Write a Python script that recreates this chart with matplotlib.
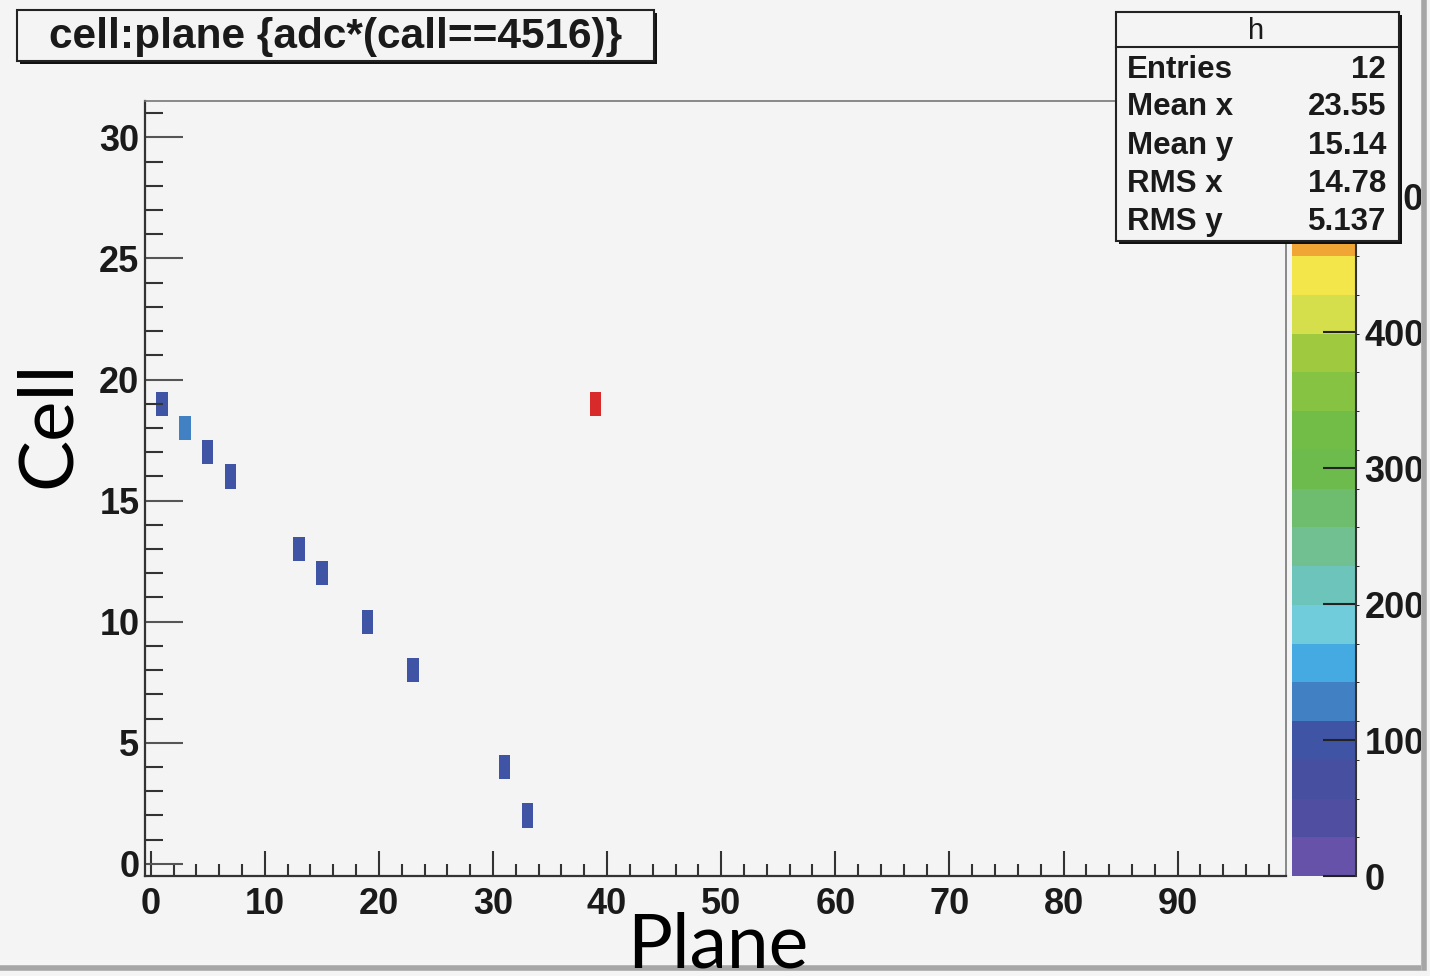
import numpy as np
import matplotlib
matplotlib.use("Agg")
import matplotlib.pyplot as plt
from matplotlib.colors import ListedColormap, BoundaryNorm
from matplotlib.patches import Rectangle
from matplotlib.lines import Line2D

# ---------------- data ----------------
planes = [1, 3, 5, 7, 13, 15, 19, 23, 31, 33, 39]
cells = [19, 18, 17, 16, 13, 12, 10, 8, 4, 2, 19]
adc = [950, 1300, 950, 950, 950, 950, 950, 950, 950, 950, 5600]

x_ticks = [0, 10, 20, 30, 40, 50, 60, 70, 80, 90]
y_ticks = [0, 5, 10, 15, 20, 25, 30]
z_ticks = [0, 1000, 2000, 3000, 4000, 5000]
z_max = 5700

title_text = "cell:plane {adc*(call==4516)}"
stat_names = ["Entries", "Mean x", "Mean y", "RMS x", "RMS y"]
stat_values = ["12", "23.55", "15.14", "14.78", "5.137"]
hist_name = "h"

palette = ["#6652a8", "#504ea0", "#474fa0", "#3f54a5", "#4280c4",
           "#45aae2", "#70cbda", "#6cc4bb", "#70c092", "#6ebd6e",
           "#6cbb4c", "#72bd48", "#86c343", "#9fca40", "#d5df4b",
           "#f2e64a", "#f0a535", "#ec7a30", "#e44a2e", "#d8292b"]

# ---------------- figure ----------------
W, H = 1430, 976
BG = "#f4f4f4"
fig = plt.figure(figsize=(W / 100, H / 100), dpi=100, facecolor=BG)

FONT = "Liberation Sans"


def fx(x):
    return x / W


def fy(y):
    return 1 - y / H


ax = fig.add_axes([fx(145), fy(876), (1286 - 145) / W, (876 - 101) / H])
cax = fig.add_axes([fx(1292), fy(876), (1356 - 1292) / W, (876 - 101) / H])
ax.set_facecolor(BG)

xedges = np.arange(-0.5, 100.0, 1.0)
yedges = np.arange(-0.5, 32.0, 1.0)
hist, _, _ = np.histogram2d(planes, cells, bins=[xedges, yedges], weights=adc)
hist = np.ma.masked_equal(hist.T, 0)

cmap = ListedColormap(palette)
levels = np.linspace(0, z_max, len(palette) + 1)
norm = BoundaryNorm(levels, cmap.N)
mesh = ax.pcolormesh(xedges, yedges, hist, cmap=cmap, norm=norm)

ax.set_xlim(-0.5, 99.5)
ax.set_ylim(-0.5, 31.5)
ax.set_xticks(x_ticks)
ax.set_yticks(y_ticks)
ax.set_xticks(np.arange(0, 100, 2), minor=True)
ax.set_yticks(np.arange(0, 32, 1), minor=True)
ax.tick_params(axis="x", which="major", direction="in", length=18, width=1.5,
               color="#333333", pad=8)
ax.tick_params(axis="x", which="minor", direction="in", length=9, width=1.5,
               color="#333333")
ax.tick_params(axis="y", which="major", direction="in", length=27, width=1.5,
               color="#555555", pad=4)
ax.tick_params(axis="y", which="minor", direction="in", length=13, width=1.5,
               color="#333333")
for lab in ax.get_xticklabels() + ax.get_yticklabels():
    lab.set_fontfamily(FONT)
    lab.set_fontweight("bold")
    lab.set_fontsize(26)
    lab.set_color("#1a1a1a")
for sp in ax.spines.values():
    sp.set_color("#777777")
    sp.set_linewidth(1.2)
ax.spines["left"].set_color("#333333")
ax.spines["bottom"].set_color("#333333")
ax.spines["left"].set_linewidth(1.6)
ax.spines["bottom"].set_linewidth(1.6)

cbar = fig.colorbar(mesh, cax=cax, ticks=z_ticks, boundaries=levels)
cbar.outline.set_visible(False)
cax.plot([1, 1], [0, 1], transform=cax.transAxes, color="#333333", lw=1.5,
         clip_on=False)
cax.tick_params(direction="in", length=24, width=1.5, color="#222222", pad=6)
cbar.set_ticklabels([str(t) for t in z_ticks])
for lab in cax.get_yticklabels():
    lab.set_fontfamily(FONT)
    lab.set_fontweight("bold")
    lab.set_fontsize(26)
    lab.set_color("#1a1a1a")

# ---------------- title box ----------------
def box(x0, y0, x1, y1, shadow=3, z=10):
    fig.add_artist(Rectangle((fx(x0 + shadow), fy(y1 + shadow)),
                             (x1 - x0) / W, (y1 - y0) / H,
                             transform=fig.transFigure, facecolor="#111111",
                             edgecolor="none", zorder=z))
    fig.add_artist(Rectangle((fx(x0), fy(y1)), (x1 - x0) / W, (y1 - y0) / H,
                             transform=fig.transFigure, facecolor=BG,
                             edgecolor="#222222", lw=1.5, zorder=z + 1))


box(17, 10, 654, 61)
fig.text(fx(336), fy(37), title_text, ha="center", va="center",
         fontfamily=FONT, fontweight="bold", fontsize=30.5, color="#1a1a1a",
         zorder=20)

# ---------------- stats box ----------------
box(1116, 12, 1399, 241)
fig.add_artist(Line2D([fx(1116), fx(1399)], [fy(47), fy(47)],
                      transform=fig.transFigure, color="#222222", lw=1.5,
                      zorder=15))
fig.text(fx(1256), fy(31), hist_name, ha="center", va="center",
         fontfamily=FONT, fontsize=21, color="#1a1a1a", zorder=20)
row_y = [70, 107, 146, 184, 222]
for name, val, ry in zip(stat_names, stat_values, row_y):
    fig.text(fx(1127), fy(ry), name, ha="left", va="center", fontfamily=FONT,
             fontweight="bold", fontsize=22.5, color="#1a1a1a", zorder=20)
    fig.text(fx(1386), fy(ry), val, ha="right", va="center", fontfamily=FONT,
             fontweight="bold", fontsize=22.5, color="#1a1a1a", zorder=20)

# ---------------- big axis titles ----------------
fig.text(fx(48), fy(424), "Cell", rotation=90, ha="center", va="center",
         fontfamily="Lato", fontsize=55, color="black", zorder=20)
fig.text(fx(718), fy(968), "Plane", ha="center", va="baseline",
         fontfamily="Lato", fontsize=54, color="black", zorder=20)

# ---------------- outer frame ----------------
fig.add_artist(Rectangle((fx(1421), 0), 9 / W, 1, transform=fig.transFigure,
                         facecolor=BG, edgecolor="none", zorder=30))
fig.add_artist(Line2D([fx(1424), fx(1424)], [fy(968), 1],
                      transform=fig.transFigure, color="#a6a6a6", lw=4,
                      zorder=31))
fig.add_artist(Line2D([fx(0), fx(1426)], [fy(968), fy(968)],
                      transform=fig.transFigure, color="#a6a6a6", lw=4,
                      zorder=19))

fig.savefig("out.png", dpi=100, facecolor=BG)
